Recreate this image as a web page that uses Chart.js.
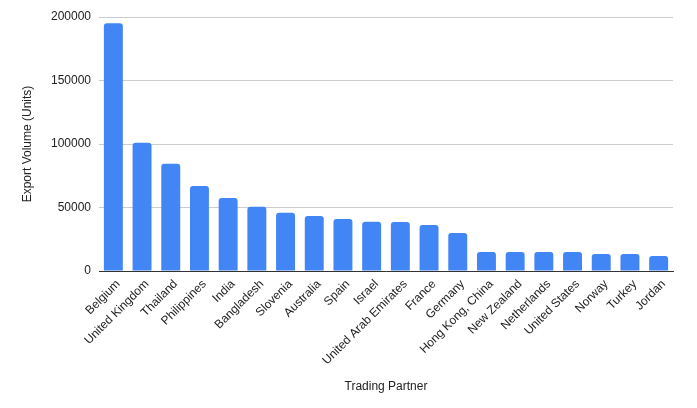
<!DOCTYPE html>
<html>
<head>
<meta charset="utf-8">
<script src="https://cdn.jsdelivr.net/npm/chart.js@4"></script>
<style>
  html, body { margin: 0; padding: 0; background: #fff; }
  #wrap { width: 697px; height: 408px; }
</style>
</head>
<body>
<div id="wrap"><canvas id="barChart"></canvas></div>
<script>
const partners = [
    "Belgium", "United Kingdom", "Thailand", "Philippines", "India",
    "Bangladesh", "Slovenia", "Australia", "Spain", "Israel",
    "United Arab Emirates", "France", "Germany", "Hong Kong, China", "New Zealand",
    "Netherlands", "United States", "Norway", "Turkey", "Jordan"
];
const exportVolume = [
    195000, 101000, 84500, 67000, 57500,
    50500, 45800, 43300, 41000, 38700,
    38600, 36200, 30000, 15000, 15000,
    15000, 15000, 13400, 13400, 11800
];
const yTicks = [0, 50000, 100000, 150000, 200000];

Chart.defaults.font.family = "'Liberation Sans', Arial, sans-serif";
Chart.defaults.font.size = 12;
Chart.defaults.color = "#222";

const ctx = document.getElementById("barChart").getContext("2d");

new Chart(ctx, {
    type: "bar",
    data: {
        labels: partners,
        datasets: [{
            label: "Export Volume (Units)",
            data: exportVolume,
            backgroundColor: "#4285F4",
            borderRadius: { topLeft: 3, topRight: 3 },
            borderSkipped: "bottom",
            barPercentage: 0.66,
            categoryPercentage: 1.0,
        }],
    },
    options: {
        responsive: true,
        maintainAspectRatio: false,
        animation: false,
        layout: {
            padding: { left: 0, right: 24, top: 17, bottom: 10 },
        },
        plugins: {
            legend: { display: false },
            tooltip: { enabled: false },
        },
        scales: {
            x: {
                grid: { display: false },
                border: { display: true, color: "#333", width: 1 },
                ticks: {
                    autoSkip: false,
                    minRotation: 45,
                    maxRotation: 45,
                    padding: -2,
                    labelOffset: 5,
                    color: "#222",
                },
                title: {
                    display: true,
                    text: "Trading Partner",
                    color: "#222",
                    padding: { top: 4, bottom: 4 },
                },
                afterFit: (scale) => { scale.height = 127; },
            },
            y: {
                min: 0,
                max: 200000,
                afterBuildTicks: (scale) => {
                    scale.ticks = yTicks.map(v => ({ value: v }));
                },
                grid: {
                    color: "#ccc",
                    drawTicks: false,
                },
                border: { display: false },
                ticks: {
                    padding: 8,
                    color: "#222",
                    callback: (value) => String(value),
                },
                title: {
                    display: true,
                    text: "Export Volume (Units)",
                    color: "#222",
                    padding: { top: 20, bottom: 0 },
                },
                afterFit: (scale) => { scale.width = 99; },
            },
        },
    },
});
</script>
</body>
</html>
